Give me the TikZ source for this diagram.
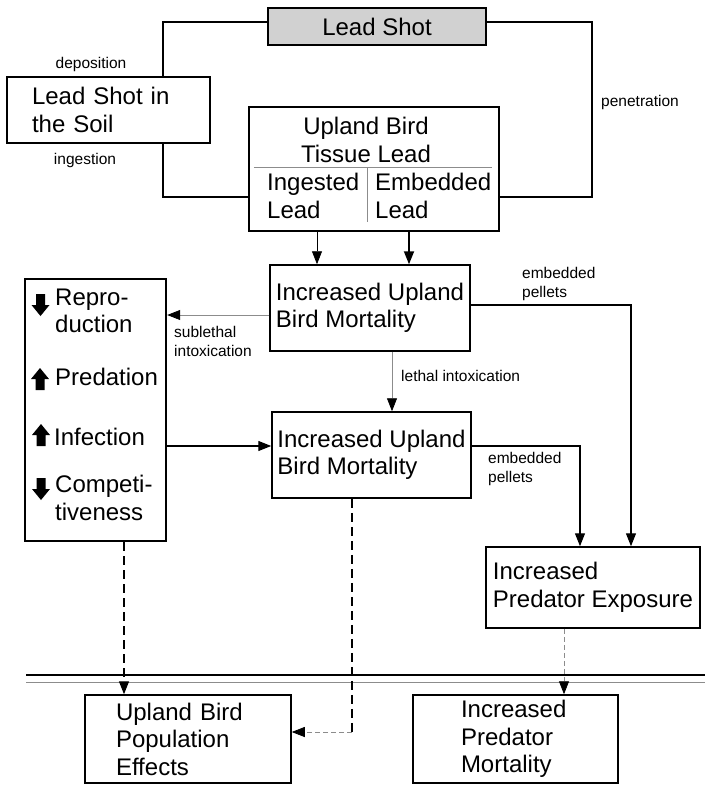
\documentclass[tikz,border=0pt]{standalone}
\usepackage{fontspec}
\setmainfont{Liberation Sans}
\usetikzlibrary{positioning,arrows.meta}

\begin{document}
\begin{tikzpicture}[
  x=1pt, y=-1pt,
  box/.style={rectangle, draw, line width=1.5pt, align=left, font=\fontsize{24}{27.5}\selectfont},
  heavybox/.style={box, line width=2.4pt},
  txt/.style={inner sep=0pt, align=left, font=\fontsize{24}{27.5}\selectfont},
  label/.style={inner sep=0pt, align=left, font=\fontsize{15.5}{19}\selectfont},
  link/.style={line width=1.3pt},
  arrow/.style={link, -{Triangle[length=13pt,width=10pt]}},
  thinarrow/.style={arrow, line width=0.8pt},
  greyarrow/.style={line width=0.8pt, black!45, -{Triangle[length=13pt,width=10pt,color=black]}},
  dashline/.style={link, dash pattern=on 9pt off 5pt},
  dasharrow/.style={dashline, -{Triangle[length=13pt,width=10pt]}},
  greydash/.style={line width=0.8pt, black!45, dash pattern=on 5pt off 3pt, -{Triangle[length=13pt,width=10pt,color=black]}},
  divider/.style={line width=0.8pt, black!45},
  dnicon/.pic={\fill (-4.5,-11) -- (4.5,-11) -- (4.5,0) -- (9,0) -- (0,11) -- (-9,0) -- (-4.5,0) -- cycle;},
  upicon/.pic={\fill (-4.5,11) -- (4.5,11) -- (4.5,0) -- (9,0) -- (0,-11) -- (-9,0) -- (-4.5,0) -- cycle;}
]
\useasboundingbox (0,0) rectangle (705,785);

% Sources
\node[box, fill=black!18, minimum width=218pt, minimum height=37pt] (shot) at (377,26.5) {Lead Shot};
\node[box, minimum width=203pt, minimum height=66pt, inner xsep=25pt, text width=153pt] (soil) at (108.5,110) {Lead Shot in\\the Soil};
\node[heavybox, minimum width=250pt, minimum height=124pt] (tissue) at (374,169) {};
\node[txt, align=center] (tisshead) at (366,140) {Upland Bird\\Tissue Lead};
\node[txt, anchor=west] (ingested) at (267,196) {Ingested\\Lead};
\node[txt, anchor=west] (embedded) at (375,196) {Embedded\\Lead};
\draw[divider] ([xshift=6pt,yshift=2pt]tissue.west) -- ([xshift=-8pt,yshift=2pt]tissue.east);
\draw[divider] ([xshift=-7pt,yshift=2pt]tissue.center) -- ([xshift=-7pt,yshift=-53pt]tissue.center);

% Effects
\node[box, minimum width=200pt, minimum height=86pt] (mort1) at (370,308) {Increased Upland\\Bird Mortality};
\node[box, minimum width=199pt, minimum height=86pt] (mort2) at (371.5,455) {Increased Upland\\Bird Mortality};
\node[heavybox, minimum width=141pt, minimum height=262pt] (left) at (95.5,410) {};
\node[txt, anchor=west] (repro) at (55,311) {Repro-\\duction};
\node[txt, anchor=west] (predation) at (55,377) {Predation};
\node[txt, anchor=west] (infection) at (54,437) {Infection};
\node[txt, anchor=west] (compet) at (55,498) {Competi-\\tiveness};
\pic at (40.5,305) {dnicon};
\pic at (40,379) {upicon};
\pic at (41,435) {upicon};
\pic at (41,489) {dnicon};
\node[box, minimum width=214pt, minimum height=81pt] (expo) at (593,587.5) {Increased\\Predator Exposure};

% Population level
\draw[line width=2pt] (26,675) -- (705,675);
\draw[divider] (26,682) -- (705,682);
\node[box, minimum width=206pt, minimum height=88pt, inner xsep=31pt, text width=144pt] (pop) at (188,739) {Upland Bird\\Population\\Effects};
\node[box, minimum width=205pt, minimum height=88pt, inner xsep=48pt, text width=109pt] (predmort) at (515.5,739) {Increased\\Predator\\Mortality};

% Arrows
\coordinate (penbend) at (592,197);
\coordinate (popbend) at (352,732);
\draw[link] ([yshift=4.5pt]shot.west) -| ([xshift=54.5pt]soil.north);
\draw[link] ([xshift=54.5pt]soil.south) |- ([yshift=-28pt]tissue.west);
\draw[link] ([yshift=4.5pt]shot.east) -| (penbend) -- ([yshift=-28pt]tissue.east);
\draw[thinarrow] ([xshift=-57pt]tissue.south) -- ([xshift=-53pt]mort1.north);
\draw[arrow, line width=1.8pt] ([xshift=35pt]tissue.south) -- ([xshift=39pt]mort1.north);
\draw[greyarrow] ([yshift=-7pt]mort1.west) -- ([yshift=95pt]left.east);
\draw[greyarrow] ([xshift=22pt]mort1.south) -- ([xshift=20.5pt]mort2.north);
\draw[arrow] ([yshift=3pt]mort1.east) -| ([xshift=38pt]expo.north);
\draw[arrow] ([yshift=-36pt]left.east) -- ([yshift=9pt]mort2.west);
\draw[arrow] ([yshift=9pt]mort2.east) -| ([xshift=-13pt]expo.north);
\draw[dasharrow] ([xshift=28.5pt]left.south) -- ([xshift=-64pt]pop.north);
\draw[dashline] ([xshift=-19.5pt]mort2.south) -- (popbend);
\draw[greydash] (popbend) -- ([yshift=7pt]pop.east);
\draw[greydash] ([xshift=-29pt]expo.south) -- ([xshift=48.5pt]predmort.north);

% Labels
\node[label] (deplab) at (91,64) {deposition};
\node[label] (inglab) at (85,160) {ingestion};
\node[label] (penlab) at (640,102) {penetration};
\node[label, anchor=west] (sublab) at (174,341.5) {sublethal\\intoxication};
\node[label, anchor=west] (lethlab) at (401,375.5) {lethal intoxication};
\node[label, anchor=west] (emblab) at (522,283.5) {embedded\\pellets};
\node[label, anchor=west] (emblabb) at (488,468.5) {embedded\\pellets};

\end{tikzpicture}
\end{document}
